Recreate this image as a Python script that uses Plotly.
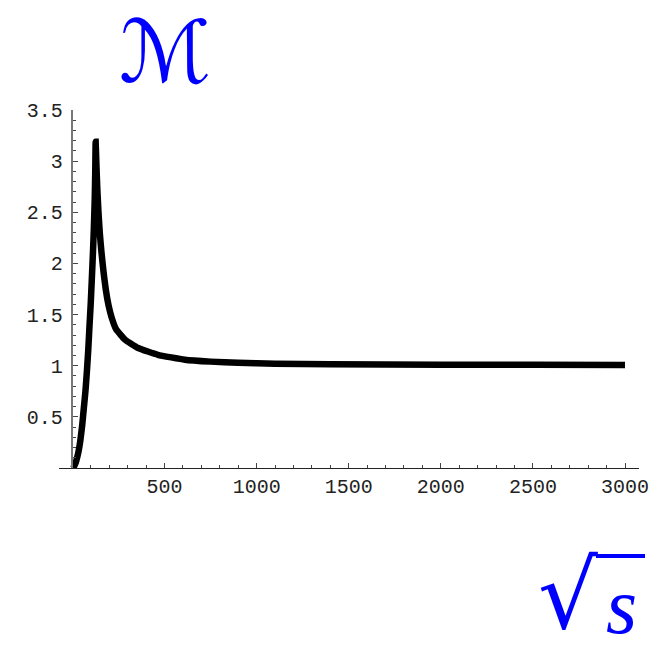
import plotly.graph_objects as go

# data
sqrt_s = [5, 19, 33, 43, 53, 62, 71, 79, 86, 92, 99, 105, 111, 116, 121, 124, 126,
          130, 135, 141, 148, 157, 168, 181, 196, 213, 236, 285, 357, 464,
          610, 750, 900, 1100, 1400, 2000, 2500, 3000]
M_vals = [0.0, 0.06, 0.16, 0.27, 0.42, 0.59, 0.76, 0.96, 1.16, 1.37, 1.6, 1.84, 2.09, 2.33, 2.63, 2.92, 3.19,
          2.97, 2.73, 2.51, 2.31, 2.12, 1.93, 1.745, 1.59, 1.47, 1.36, 1.255, 1.173, 1.107,
          1.059, 1.04, 1.028, 1.02, 1.015, 1.01, 1.009, 1.008]

x_ticks = [500, 1000, 1500, 2000, 2500, 3000]
x_tick_text = ["500", "1000", "1500", "2000", "2500", "3000"]
y_ticks = [0.5, 1, 1.5, 2, 2.5, 3, 3.5]
y_tick_text = ["0.5", "1", "1.5", "2", "2.5", "3", "3.5"]

W, H = 665, 652
L, R, T, B = 59, 26, 110, 184
PW, PH = W - L - R, H - T - B
x_range = [-73, 3076]
y_range = [0, 3.5]


def px_x(p):
    return (p - L) / PW


def px_y(p):
    return (H - B - p) / PH


fig = go.Figure()
fig.add_trace(go.Scatter(
    x=sqrt_s, y=M_vals, mode="lines",
    line=dict(color="black", width=6.5, shape="spline", smoothing=0.4),
    cliponaxis=False, hoverinfo="skip", showlegend=False,
))

tickfont = dict(family="Liberation Mono, Courier New, monospace", size=20, color="#222")

# vertical axis sits at x = 0
y_axis_pos = (0 - x_range[0]) / (x_range[1] - x_range[0])

fig.update_layout(
    width=W, height=H,
    margin=dict(l=L, r=R, t=T, b=B),
    paper_bgcolor="white", plot_bgcolor="white",
    xaxis=dict(
        range=x_range, showgrid=False, zeroline=False,
        showline=True, linecolor="#222", linewidth=1.2,
        ticks="inside", ticklen=5, tickwidth=1, tickcolor="#444",
        tickvals=x_ticks, ticktext=x_tick_text, tickfont=tickfont,
        ticklabelstandoff=0,
        minor=dict(ticks="inside", ticklen=3, tickwidth=1, tickcolor="#444",
                   tickvals=[v for v in range(100, 3001, 100) if v % 500 != 0],
                   showgrid=False),
    ),
    yaxis=dict(
        range=y_range, showgrid=False, zeroline=False,
        anchor="free", position=y_axis_pos,
        showline=True, linecolor="#777", linewidth=1.5,
        ticks="inside", ticklen=5, tickwidth=1, tickcolor="#444",
        tickvals=y_ticks, ticktext=y_tick_text, tickfont=tickfont,
        ticklabelstandoff=5,
        minor=dict(ticks="inside", ticklen=3, tickwidth=1, tickcolor="#444",
                   tickvals=[round(0.1 * i, 1) for i in range(1, 35) if i % 5 != 0],
                   showgrid=False),
    ),
)

# vertical-axis label (script M), kept inside the page
fig.add_annotation(
    text="ℳ", xref="paper", yref="paper",
    x=px_x(165), y=px_y(0),
    xanchor="center", yanchor="top", showarrow=False,
    font=dict(family="DejaVu Serif, DejaVu Sans, serif", size=86, color="blue"),
)
# horizontal-axis label: square root of s
fig.add_annotation(
    text="√", xref="paper", yref="paper",
    x=px_x(568), y=px_y(H),
    xanchor="center", yanchor="bottom", showarrow=False,
    font=dict(family="DejaVu Sans, sans-serif", size=94, color="blue"),
)
fig.add_annotation(
    text="<i>s</i>", xref="paper", yref="paper",
    x=px_x(621), y=px_y(606),
    xanchor="center", yanchor="middle", showarrow=False,
    font=dict(family="Liberation Serif, DejaVu Serif, serif", size=80, color="blue"),
)
fig.add_shape(
    type="line", xref="paper", yref="paper",
    x0=px_x(596), x1=px_x(645), y0=px_y(556), y1=px_y(556),
    line=dict(color="blue", width=4),
)

fig.write_html("out.html")
